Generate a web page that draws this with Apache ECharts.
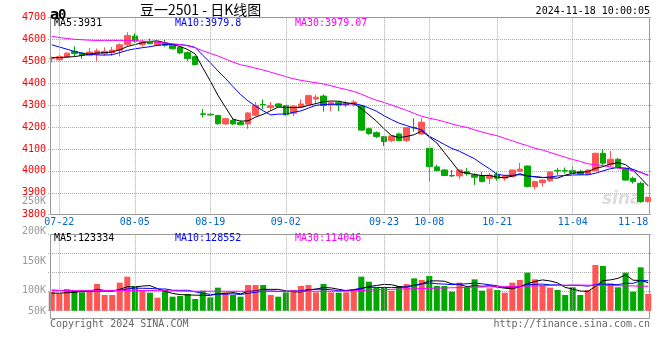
<!DOCTYPE html>
<html><head><meta charset="utf-8">
<script src="https://cdn.jsdelivr.net/npm/echarts@6/dist/echarts.min.js"></script>
<style>html,body{margin:0;padding:0;background:#fff}#c{width:660px;height:360px}</style>
</head><body><div id="c"></div>
<script>
const dates = ['07-19','07-22','07-23','07-24','07-25','07-26','07-29','07-30','07-31','08-01','08-02','08-05','08-06','08-07','08-08','08-09','08-12','08-13','08-14','08-15','08-16','08-19','08-20','08-21','08-22','08-23','08-26','08-27','08-28','08-29','08-30','09-02','09-03','09-04','09-05','09-06','09-09','09-10','09-11','09-12','09-13','09-18','09-19','09-20','09-23','09-24','09-25','09-26','09-27','09-30','10-08','10-09','10-10','10-11','10-14','10-15','10-16','10-17','10-18','10-21','10-22','10-23','10-24','10-25','10-28','10-29','10-30','10-31','11-01','11-04','11-05','11-06','11-07','11-08','11-11','11-12','11-13','11-14','11-15','11-18'];
const open  = [4511,4507,4519,4545,4537,4527,4532,4534,4539,4550,4576,4615,4576,4588,4573,4583,4573,4564,4539,4521,4260,4258,4253,4214,4230,4221,4214,4254,4303,4289,4305,4297,4263,4291,4304,4328,4341,4301,4311,4300,4304,4297,4192,4174,4156,4138,4168,4138,4198,4168,4103,4018,4004,3979,3977,3996,3981,3978,3966,3984,3966,3974,3999,4022,3928,3946,3955,4002,4001,4001,3996,3985,4001,4080,4027,4053,4012,3966,3943,3860];
const close = [4513,4521,4537,4535,4526,4542,4547,4545,4551,4575,4617,4592,4588,4580,4588,4573,4557,4538,4512,4485,4258,4255,4215,4238,4214,4211,4264,4299,4301,4297,4294,4256,4295,4305,4343,4336,4298,4311,4300,4308,4314,4186,4170,4157,4134,4159,4138,4197,4196,4222,4020,4001,3979,3977,4004,3987,3971,3952,3980,3966,3976,4004,4008,3929,3951,3958,3995,4000,3999,3990,3985,4004,4080,4035,4053,4015,3958,3951,3860,3880];
const low   = [4495,4500,4517,4522,4511,4522,4500,4525,4525,4522,4568,4585,4566,4578,4570,4566,4553,4533,4500,4480,4244,4250,4210,4210,4210,4208,4192,4248,4281,4275,4290,4252,4250,4287,4300,4310,4270,4272,4272,4290,4293,4182,4165,4150,4113,4130,4135,4131,4179,4165,3951,3997,3976,3971,3963,3978,3936,3947,3940,3955,3955,3970,3995,3925,3915,3928,3948,3981,3988,3984,3980,3980,3999,4027,4019,4010,3955,3942,3855,3855];
const high  = [4522,4530,4540,4568,4541,4560,4558,4563,4565,4582,4633,4628,4600,4603,4592,4597,4578,4568,4545,4525,4282,4264,4255,4241,4236,4230,4268,4314,4326,4314,4310,4299,4300,4326,4348,4347,4349,4313,4316,4318,4323,4300,4195,4180,4158,4161,4175,4198,4240,4240,4104,4028,4008,4004,4006,4014,3988,3995,3990,3994,3982,4005,4037,4024,3955,3962,3997,4014,4015,4020,4004,4007,4083,4100,4091,4058,4014,3974,3951,3881];
const ma5   = [4516,4517,4519,4521,4526.4,4532.2,4537.4,4539,4542.2,4552,4567,4576,4584.6,4590.4,4593,4584.2,4577.2,4567.2,4553.6,4533,4470,4409.6,4345,4290.2,4236,4226.6,4228.4,4245.2,4257.8,4274.4,4291,4289.4,4288.6,4289.4,4298.6,4307,4315.4,4318.6,4317.6,4310.6,4306.2,4283.8,4255.6,4227,4192.2,4161.2,4151.6,4157,4164.8,4182.4,4154.6,4127.2,4083.6,4039.8,3996.2,3989.6,3983.6,3978.2,3978.8,3971.2,3969,3975.6,3986.8,3976.6,3973.6,3970,3968.2,3966.6,3980.6,3988.4,3993.8,3995.6,4011.6,4018.8,4031.4,4037.4,4028.2,4002.4,3967.4,3931];
const ma10  = [4575,4565,4555,4545,4537,4532,4529,4528,4530,4539.2,4549.6,4556.7,4561.8,4566.3,4572.5,4575.6,4576.6,4575.9,4572,4563,4527.1,4493.4,4456.1,4421.9,4384.5,4348.3,4319,4295.1,4274,4255.2,4258.8,4258.9,4266.9,4273.6,4286.5,4299,4302.4,4303.6,4303.5,4304.6,4306.6,4299.6,4287.1,4272.3,4251.4,4233.7,4217.7,4206.3,4195.9,4187.3,4157.9,4139.4,4120.3,4102.3,4089.3,4072.1,4055.4,4030.9,4009.3,3983.7,3979.3,3979.6,3982.5,3977.7,3972.4,3969.5,3971.9,3976.7,3978.6,3981,3981.9,3981.9,3989.1,3999.7,4009.9,4015.6,4011.9,4007,3993.1,3979.8];
const ma30  = [4614,4608,4604,4600,4598,4596,4595,4595,4595,4595,4595,4594,4592,4590,4587,4584,4580,4576,4570,4561,4548,4536,4524,4510,4496,4484,4477,4468,4460,4450,4440,4430,4420,4413,4407,4402,4396,4388,4379,4371,4362,4350,4335,4322,4312,4300,4288,4276,4262,4249,4240,4233,4224,4214,4205,4198,4187,4177,4168,4160,4148,4137,4125,4115,4103,4095,4084,4073,4062,4052,4043,4032,4028,4024,4018,4013,4007,4000,3993,3979];
const volume = [99800,95500,106800,101600,98100,104200,119900,91100,91100,123400,139100,114700,104200,97200,84100,104200,86700,88500,93700,80600,102400,85000,110300,98100,91100,86700,117300,117300,117300,91100,86700,98100,104200,114700,117300,98100,119900,98100,97200,98100,105900,139100,126000,111200,111200,102400,114700,119900,134700,130400,140800,114700,114700,99800,123400,111200,132100,102400,108600,104200,97200,123400,130400,149600,132100,117300,110300,104200,91100,111200,91100,104200,169600,167000,121600,111200,149600,99800,163500,93700];
const vma5  = [96000,96000,97000,98000,100400,101200,106100,103000,100900,105900,112900,111900,114500,115700,107900,100900,95300,92100,91400,90700,90400,90000,94400,95300,97400,94200,100700,102100,105900,105900,105900,102100,99500,99000,104200,106500,110800,109600,106100,102300,103800,107700,113300,116100,118700,118000,113100,111900,116600,120400,128100,128100,127100,120100,118700,112800,116200,113800,115500,111700,108900,107200,112800,121000,126500,130600,127900,122700,111000,106800,101600,100400,113400,128600,130700,134700,143800,129800,129100,123334];
const vma10 = [104000,103000,102000,101000,100000,100000,101000,101000,102000,103200,107100,109000,108700,108300,106900,106900,103600,103300,103600,99300,95600,92700,93300,93400,94100,92300,95400,98300,100600,101700,100100,101400,100800,102500,105100,106200,106500,104600,102500,103200,105200,109300,111400,111100,110500,110900,110400,112600,116300,119600,123000,120600,119500,118300,119600,120400,122200,120400,117800,115200,110800,111700,113300,118300,119100,119700,117600,117700,116000,116700,116100,114200,118100,119800,118800,118200,122100,121600,128900,128552];
const vma30 = [103000,103000,103000,103000,103000,103000,103000,103000,103000,103000,103000,103000,103000,103000,102500,102000,102000,101500,101000,101000,101000,101000,101000,101000,101000,101000,101000,101000,101000,101000,101000,101000,101000,101000,101000,101000,101000,101000,101000,101400,102000,103000,104000,105000,105500,106000,106500,107000,107500,108200,108500,109000,109500,110000,110500,111000,111500,112000,112300,112700,113000,113500,114000,114500,115000,115500,116000,116300,116600,117100,117000,116800,116500,116200,115800,115500,115200,114800,114400,114046];
const labelDates = ['07-22','08-05','08-19','09-02','09-23','10-08','10-21','11-04','11-18'];
const gridDates  = ['07-22','08-05','08-19','09-02','09-23','10-08','10-21','11-04'];
const priceMin = 3800, priceMax = 4700, priceStep = 100;
const volTicks = [['250K',201],['200K',231],['150K',261],['100K',290],['50K',311]];
const legendPrice = [['MA5:3931','#000',54],['MA10:3979.8','#0000ff',175],['MA30:3979.07','#ff00ff',295]];
const legendVol = [['MA5:123334','#000',54],['MA10:128552','#0000ff',175],['MA30:114046','#ff00ff',295]];

const UP = '#ff5555', DOWN = '#00a800';
const MONO = '"DejaVu Sans Mono", monospace';
const chart = echarts.init(document.getElementById('c'), null, {renderer: 'canvas'});

const candles = dates.map((d, i) => [open[i], close[i], low[i], high[i]]);
const volData = volume.map((v, i) => ({value: v, itemStyle: {color: close[i] >= open[i] ? UP : DOWN}}));
const vLines = {symbol: 'none', silent: true, animation: false, label: {show: false},
  lineStyle: {type: 'dotted', color: '#aaa', width: 1},
  data: gridDates.map(d => ({xAxis: d}))};

function ln(name, data, color, xi, yi) {
  return {type: 'line', name, data, xAxisIndex: xi, yAxisIndex: yi, showSymbol: false, symbol: 'none',
    lineStyle: {color, width: 1}, itemStyle: {color}, silent: true, animation: false, z: 3};
}
const gfx = [];
function txt(t, x, y, color, size, opts) {
  gfx.push({type: 'text', x, y, silent: true, z: 20, style: Object.assign({text: t, fill: color, font: size + 'px ' + MONO, textVerticalAlign: 'middle'}, opts || {})});
}
txt('a', 50, 15, '#000', 13, {font: 'bold 14px "DejaVu Sans"'});
txt('0', 58, 15, '#000', 13, {font: 'bold 14px "DejaVu Sans Mono"'});
gfx.push({type: 'text', x: 140, y: 10, silent: true, style: {text: '豆一2501 - 日K线图', fill: '#000', font: '14px "Noto Sans CJK SC"', textVerticalAlign: 'middle'}});
txt('2024-11-18 10:00:05', 650, 11, '#000', 10, {textAlign: 'right'});
legendPrice.forEach(l => txt(l[0], l[2], 23, l[1], 10));
legendVol.forEach(l => txt(l[0], l[2], 238, l[1], 10));
volTicks.forEach(t => txt(t[0], 46, t[1], '#999', 10, {textAlign: 'right'}));
txt('Copyright 2024 SINA.COM', 50, 324, '#666', 10);
txt('http://finance.sina.com.cn', 650, 324, '#666', 10, {textAlign: 'right'});
gfx.push({type: 'text', x: 602, y: 200, silent: true, style: {text: 'sina', fill: '#dddddd', font: 'italic bold 17px "DejaVu Sans"', textVerticalAlign: 'middle'}});
gfx.push({type: 'rect', silent: true, z: 10, shape: {x: 50.5, y: 17.5, width: 599, height: 197}, style: {fill: 'none', stroke: '#999', lineWidth: 1}});
gfx.push({type: 'rect', silent: true, z: 10, shape: {x: 50.5, y: 234.5, width: 599, height: 84}, style: {fill: 'none', stroke: '#999', lineWidth: 1}});

chart.setOption({
  animation: false,
  backgroundColor: '#fff',
  grid: [
    {left: 48, right: 8, top: 17.4, height: 197.3},
    {left: 48, right: 8, top: 234.3, height: 76.4}
  ],
  xAxis: [
    {type: 'category', gridIndex: 0, data: dates, boundaryGap: true,
     axisLine: {show: false}, axisTick: {show: false}, splitLine: {show: false},
     axisLabel: {interval: (i, v) => labelDates.includes(v), color: '#0066cc', fontFamily: MONO, fontSize: 10, margin: 3, alignMaxLabel: 'right'}},
    {type: 'category', gridIndex: 1, data: dates, boundaryGap: true,
     axisLine: {show: false}, axisTick: {show: false}, axisLabel: {show: false}, splitLine: {show: false}}
  ],
  yAxis: [
    {type: 'value', gridIndex: 0, min: priceMin, max: priceMax, interval: priceStep,
     axisLine: {show: false}, axisTick: {show: false},
     axisLabel: {color: '#ff0000', fontFamily: MONO, fontSize: 10, margin: 2, padding: [0, 0, 4, 0], formatter: v => String(v)},
     splitLine: {show: true, lineStyle: {type: 'dotted', color: '#aaa'}}},
    {type: 'value', gridIndex: 1, min: 50000, max: 250000, interval: 50000,
     axisLine: {show: false}, axisTick: {show: false}, axisLabel: {show: false},
     splitLine: {show: true, lineStyle: {type: 'dotted', color: '#aaa'}}}
  ],
  series: [
    {type: 'candlestick', xAxisIndex: 0, yAxisIndex: 0, data: candles, barWidth: 6, silent: true,
     itemStyle: {color: UP, color0: DOWN, borderColor: UP, borderColor0: DOWN, borderWidth: 1},
     markLine: vLines, z: 2},
    ln('MA5', ma5, '#000000', 0, 0),
    ln('MA10', ma10, '#0000ff', 0, 0),
    ln('MA30', ma30, '#ff00ff', 0, 0),
    {type: 'bar', xAxisIndex: 1, yAxisIndex: 1, data: volData, barWidth: 6, silent: true, markLine: vLines, z: 2},
    ln('VMA5', vma5, '#000000', 1, 1),
    ln('VMA10', vma10, '#0000ff', 1, 1),
    ln('VMA30', vma30, '#ff00ff', 1, 1)
  ],
  graphic: gfx
});
</script></body></html>
